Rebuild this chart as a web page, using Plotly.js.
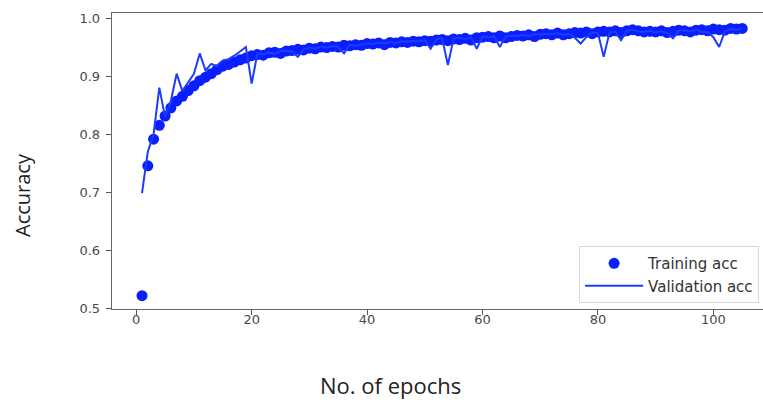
<!DOCTYPE html>
<html>
<head>
<meta charset="utf-8">
<script src="https://cdn.plot.ly/plotly-3.0.1.min.js"></script>
<style>html,body{margin:0;padding:0;background:#fff;}#chart{width:763px;height:403px;}</style>
</head>
<body>
<div id="chart"></div>
<script>
const epochs = [];
for (let i = 1; i <= 105; i++) epochs.push(i);

const trainingAcc = [
  0.522, 0.746, 0.792, 0.816, 0.832, 0.846, 0.858, 0.866, 0.876, 0.884,
  0.893, 0.899, 0.905, 0.912, 0.918, 0.921, 0.925, 0.929, 0.932, 0.936,
  0.938, 0.937, 0.941, 0.942, 0.940, 0.944, 0.945, 0.947, 0.946, 0.949,
  0.948, 0.951, 0.950, 0.952, 0.951, 0.954, 0.953, 0.955, 0.954, 0.957,
  0.956, 0.958, 0.955, 0.959, 0.958, 0.960, 0.959, 0.961, 0.960, 0.962,
  0.961, 0.963, 0.964, 0.962, 0.965, 0.964, 0.966, 0.963, 0.967, 0.968,
  0.969, 0.967, 0.970, 0.967, 0.969, 0.971, 0.970, 0.972, 0.969, 0.973,
  0.974, 0.972, 0.975, 0.972, 0.974, 0.976, 0.975, 0.977, 0.974, 0.977,
  0.978, 0.977, 0.979, 0.976, 0.979, 0.981, 0.979, 0.977, 0.978, 0.977,
  0.979, 0.976, 0.978, 0.980, 0.979, 0.977, 0.980, 0.981, 0.979, 0.982,
  0.981, 0.980, 0.983, 0.982, 0.983
];

const validationAcc = [
  0.699, 0.770, 0.800, 0.881, 0.830, 0.858, 0.905, 0.875, 0.890, 0.905,
  0.940, 0.911, 0.922, 0.918, 0.928, 0.930, 0.936, 0.944, 0.951, 0.888,
  0.940, 0.938, 0.942, 0.939, 0.944, 0.945, 0.943, 0.934, 0.947, 0.950,
  0.948, 0.952, 0.950, 0.953, 0.951, 0.940, 0.955, 0.953, 0.956, 0.958,
  0.956, 0.959, 0.957, 0.960, 0.958, 0.961, 0.960, 0.962, 0.961, 0.963,
  0.948, 0.964, 0.966, 0.920, 0.966, 0.967, 0.965, 0.968, 0.948, 0.969,
  0.968, 0.970, 0.951, 0.969, 0.971, 0.970, 0.972, 0.970, 0.973, 0.972,
  0.974, 0.973, 0.975, 0.972, 0.974, 0.967, 0.957, 0.968, 0.976, 0.975,
  0.934, 0.976, 0.978, 0.963, 0.979, 0.981, 0.978, 0.977, 0.979, 0.976,
  0.978, 0.975, 0.966, 0.979, 0.980, 0.978, 0.981, 0.977, 0.977, 0.968,
  0.951, 0.978, 0.982, 0.981, 0.983
];

const yTicks = [0.5, 0.6, 0.7, 0.8, 0.9, 1.0];
const xTicks = [0, 20, 40, 60, 80, 100];

const traces = [
  {
    x: epochs, y: trainingAcc, type: 'scatter', mode: 'markers',
    name: 'Training acc',
    marker: {color: '#0a1eff', size: 11}
  },
  {
    x: epochs, y: validationAcc, type: 'scatter', mode: 'lines',
    name: 'Validation acc',
    line: {color: '#1a3cff', width: 2}
  }
];

const tickFont = {family: 'DejaVu Sans, sans-serif', size: 13, color: '#4a4a4a'};

const layout = {
  width: 763, height: 403,
  margin: {l: 112, r: 0, t: 13, b: 94},
  paper_bgcolor: '#fff', plot_bgcolor: '#fff',
  showlegend: true,
  legend: {
    x: 0.994, xanchor: 'right', y: 0.02, yanchor: 'bottom',
    bgcolor: '#fff', bordercolor: '#d8d8d8', borderwidth: 1,
    font: {family: 'DejaVu Sans, sans-serif', size: 15, color: '#333'},
    itemwidth: 58,
    tracegroupgap: 0
  },
  xaxis: {
    range: [-4.2, 108.6],
    tickvals: xTicks, ticktext: xTicks.map(String),
    ticks: 'outside', ticklen: 5, tickwidth: 1, tickcolor: '#555',
    showline: true, linecolor: '#666', linewidth: 1.3, mirror: true,
    showgrid: false, zeroline: false,
    tickfont: tickFont, ticklabelstandoff: -7
  },
  yaxis: {
    range: [0.499, 1.0097],
    tickvals: yTicks, ticktext: yTicks.map(v => v.toFixed(1)),
    ticks: 'outside', ticklen: 5, tickwidth: 1, tickcolor: '#555',
    showline: true, linecolor: '#666', linewidth: 1.3, mirror: false,
    showgrid: false, zeroline: false,
    tickfont: tickFont, ticklabelstandoff: 3
  },
  annotations: [
    {
      text: 'No. of epochs', xref: 'paper', yref: 'paper',
      x: (390 - 112) / 651, y: -(385 - 309) / 296,
      xanchor: 'center', yanchor: 'middle', showarrow: false,
      font: {family: 'Open Sans, sans-serif', size: 22, color: '#222'}
    },
    {
      text: 'Accuracy', xref: 'paper', yref: 'paper', textangle: -90,
      x: -(112 - 22) / 651, y: (309 - 195) / 296,
      xanchor: 'center', yanchor: 'middle', showarrow: false,
      font: {family: 'Open Sans, sans-serif', size: 20, color: '#222'}
    }
  ]
};

Plotly.newPlot('chart', traces, layout, {displayModeBar: false, staticPlot: true});
</script>
</body>
</html>
